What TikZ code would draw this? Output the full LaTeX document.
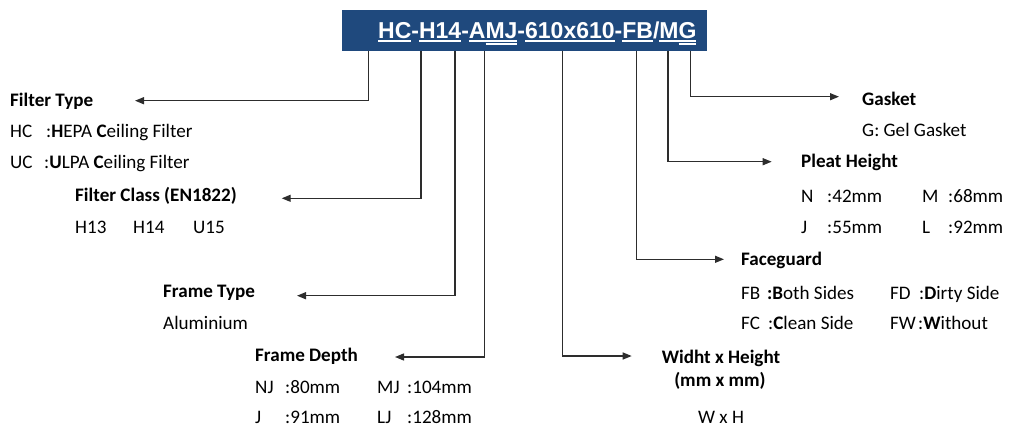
\documentclass[tikz,border=0pt]{standalone}
\usepackage{fontspec}
\setmainfont{Carlito}
\newfontfamily\hdrfont{Liberation Sans}
\usetikzlibrary{arrows.meta}
\definecolor{hdrblue}{RGB}{31,73,125}
\definecolor{linegray}{RGB}{45,45,45}
\newsavebox\ulboxa
\newsavebox\ulboxb
\newcommand\ulA[1]{\sbox\ulboxa{#1}\rlap{\rule[-4pt]{\wd\ulboxa}{2pt}}\usebox\ulboxa}
\newcommand\ulB[1]{\sbox\ulboxb{#1}\rlap{\rule[-6.6pt]{\wd\ulboxb}{1.8pt}}\usebox\ulboxb}
\tikzset{
  lbl/.style={anchor=base west, inner sep=0pt, font=\fontsize{19.1}{20}\selectfont},
  ttl/.style={anchor=base west, inner sep=0pt, font=\fontsize{19.1}{20}\selectfont\bfseries},
  ctl/.style={anchor=base, inner sep=0pt, font=\fontsize{19.1}{20}\selectfont\bfseries},
  ctx/.style={anchor=base, inner sep=0pt, font=\fontsize{19.1}{20}\selectfont},
  conn/.style={draw=linegray, line width=1.3pt, -{Triangle[length=9pt,width=7pt]}},
  hdrbox/.style={fill=hdrblue, inner sep=0pt, minimum width=365.3pt, minimum height=40.7pt},
  hdrtxt/.style={anchor=base west, inner sep=0pt, text=white, font=\hdrfont\bfseries\fontsize{23}{23}\selectfont},
}
\begin{document}
\begin{tikzpicture}[x=1pt,y=-1pt]
\useasboundingbox (0,0) rectangle (1013,426);
% header
\node[hdrbox] (hdr) at (524.35,30.35) {};
\node[hdrtxt] (code) at (378,38.3) {\ulA{HC}-\ulA{H14}-\ulA{A\ulB{MJ}}-\ulA{610x610}-\ulA{FB}/\ulA{M\ulB{G}}};
% tap points on the header bottom
\coordinate (tFT) at (368.7,50.7);
\coordinate (tFC) at (421,50.7);
\coordinate (tFR) at (455,50.7);
\coordinate (tFD) at (484.5,50.7);
\coordinate (tWH) at (562.3,50.7);
\coordinate (tFG) at (636.7,50.7);
\coordinate (tPH) at (668,50.7);
\coordinate (tGK) at (690.7,50.7);
% arrow tips
\coordinate (aFT) at (135,100.7);
\coordinate (aFC) at (281.7,198.3);
\coordinate (aFR) at (297,295.7);
\coordinate (aFD) at (395,357);
\coordinate (aWH) at (631.7,356);
\coordinate (aFG) at (724,259.3);
\coordinate (aPH) at (771.7,161.7);
\coordinate (aGK) at (839,96.7);
% Filter type
\node[ttl] (ft) at (10,106) {Filter Type};
\node[lbl] (hc) at (10,137) {HC};
\node[lbl] (hcv) at (46,137) {:\textbf{H}EPA \textbf{C}eiling Filter};
\node[lbl] (uc) at (10,168) {UC};
\node[lbl] (ucv) at (44,168) {:\textbf{U}LPA \textbf{C}eiling Filter};
% Filter class
\node[ttl] (fc) at (75,201) {Filter Class (EN1822)};
\node[lbl] (h13) at (75,233) {H13};
\node[lbl] (h14) at (133,233) {H14};
\node[lbl] (u15) at (193,233) {U15};
% Frame type
\node[ttl] (fr) at (163,297) {Frame Type};
\node[lbl] (alu) at (163,329) {Aluminium};
% Frame depth
\node[ttl] (fd) at (255,361) {Frame Depth};
\node[lbl] (nj) at (255,393) {NJ};
\node[lbl] (njv) at (285,393) {:80mm};
\node[lbl] (mj) at (377,393) {MJ};
\node[lbl] (mjv) at (407,393) {:104mm};
\node[lbl] (j1) at (255,423) {J};
\node[lbl] (j1v) at (285,423) {:91mm};
\node[lbl] (lj) at (377,423) {LJ};
\node[lbl] (ljv) at (407,423) {:128mm};
% Width x height
\node[ctl] (wh) at (721,363) {Widht x Height};
\node[ctl] (whu) at (720,386) {(mm x mm)};
\node[ctx] (whv) at (721,423) {W x H};
% Faceguard
\node[ttl] (fg) at (741,265) {Faceguard};
\node[lbl] (fb) at (741,299) {FB};
\node[lbl] (fbv) at (767,299) {\textbf{:B}oth Sides};
\node[lbl] (fdd) at (890,299) {FD};
\node[lbl] (fddv) at (919,299) {:\textbf{D}irty Side};
\node[lbl] (fcc) at (741,329) {FC};
\node[lbl] (fccv) at (768,329) {:\textbf{C}lean Side};
\node[lbl] (fw) at (890,329) {FW};
\node[lbl] (fwv) at (918,329) {:\textbf{W}ithout};
% Pleat height
\node[ttl] (ph) at (801,167) {Pleat Height};
\node[lbl] (n) at (801,202) {N};
\node[lbl] (nv) at (827,202) {:42mm};
\node[lbl] (m) at (922,202) {M};
\node[lbl] (mv) at (948,202) {:68mm};
\node[lbl] (j2) at (801,233) {J};
\node[lbl] (j2v) at (827,233) {:55mm};
\node[lbl] (l) at (922,233) {L};
\node[lbl] (lv) at (948,233) {:92mm};
% Gasket
\node[ttl] (gk) at (862,105) {Gasket};
\node[lbl] (gkv) at (862,136) {G: Gel Gasket};
% connectors
\draw[conn] (tFT) |- (aFT);
\draw[conn] (tFC) |- (aFC);
\draw[conn] (tFR) |- (aFR);
\draw[conn] (tFD) |- (aFD);
\draw[conn] (tWH) |- (aWH);
\draw[conn] (tFG) |- (aFG);
\draw[conn] (tPH) |- (aPH);
\draw[conn] (tGK) |- (aGK);
\end{tikzpicture}
\end{document}
